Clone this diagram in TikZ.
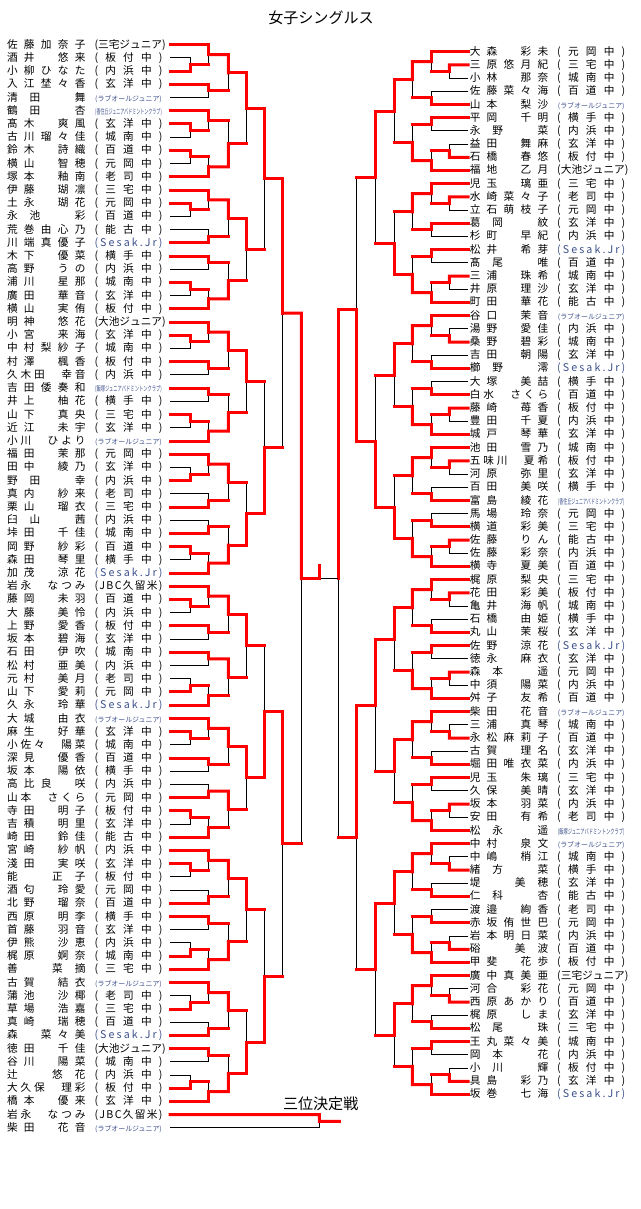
\documentclass[tikz,border=0pt]{standalone}
\usepackage{fontspec}
\setmainfont{Noto Sans CJK JP}
\usepackage{graphicx}
\usetikzlibrary{calc}
\definecolor{clubblue}{RGB}{60,80,140}

\makeatletter
\def\spreadstop{\spreadstop}
\def\spreadchars#1{\spread@loop#1\spreadstop}
\def\spread@loop#1#2{#1\ifx\spreadstop#2\expandafter\@gobble\else\hfill\expandafter\spread@loop\fi#2}
\makeatother
\newcommand{\spreadm}[1]{\expandafter\spreadchars\expandafter{#1}}

\newcommand{\clubS}[1]{\hbox to 51pt{\spreadchars{(#1)}}}
\newcommand{\clubE}{\hbox to 51pt{\color{clubblue}\spreadchars{(Sesak.Jr)}}}
\newcommand{\clubL}{\hbox to 51pt{\hss\fontsize{5.2}{6}\selectfont\color{clubblue}(ラブオールジュニア)\hss}}
\newcommand{\clubT}[1]{\hbox to 51pt{\hss\color{clubblue}\resizebox{50pt}{4.6pt}{(#1ジュニアバドミントンクラブ)}\hss}}

\newcommand{\slots}[2]{%
  \foreach \sr/\st/\sw [count=\sn] in {#2} {
    \ifnum\st=0
      \coordinate (#10-\sn) at (#1r\sr);
    \else
      \pgfmathtruncatemacro\srb{\sr+1}
      \coordinate (#10-\sn) at ($(#1c0 |- #1r\sr)!0.5!(#1c0 |- #1r\srb)$);
      \draw[lose] (#1r\sr) -- (#1c0 |- #1r\sr) -- (#1c0 |- #1r\srb) -- (#1r\srb);
      \ifnum\sw=1 \let\srw\sr \else \let\srw\srb \fi
      \draw[win] (#1r\srw) -- (#1c0 |- #1r\srw) -- (#10-\sn);
    \fi
    \expandafter\xdef\csname #1t\sn\endcsname{\st}
  }%
}

\newcommand{\rounds}[3]{%
  \pgfmathtruncatemacro\prv{#2-1}%
  \foreach \mw [count=\mj] in {#3} {
    \pgfmathtruncatemacro\bxa{2*\mj-1}
    \pgfmathtruncatemacro\bxb{2*\mj}
    \ifnum\mw=1 \let\bxw\bxa \let\bxl\bxb \else \let\bxw\bxb \let\bxl\bxa \fi
    \coordinate (#1#2-\mj) at ($(#1c#2 |- #1\prv-\bxa)!0.5!(#1c#2 |- #1\prv-\bxb)$);
    \draw[lose] (#1\prv-\bxa) -- (#1c#2 |- #1\prv-\bxa) -- (#1c#2 |- #1\prv-\bxb) -- (#1\prv-\bxb);
    \draw[win] (#1\prv-\bxw) -- (#1c#2 |- #1\prv-\bxw) -- (#1#2-\mj);
    \ifnum#2>1 \draw[win] (#1\prv-\bxl) -- (#1c#2 |- #1\prv-\bxl);
    \else\ifnum\csname #1t\bxl\endcsname=1 \draw[win] (#1\prv-\bxl) -- (#1c#2 |- #1\prv-\bxl);\fi\fi
  }%
}

\begin{document}
\begin{tikzpicture}[x=0.75pt, y=-0.75pt,
    lose/.style={black, line width=0.75pt},
    win/.style={red, line width=2.25pt, line cap=rect},
    player/.style={anchor=west, inner sep=0pt, font=\fontsize{8}{9}\selectfont},
    ttl/.style={inner sep=0pt, font=\fontsize{11.3}{13}\selectfont}]
  \fill[white] (0,0) rectangle (640,1209);
  \useasboundingbox (0,0) rectangle (640,1209);

  \node[ttl] (title) at (321,18) {女子シングルス};
  \node[ttl] (thirdtitle) at (320.7,1104) {三位決定戦};

  \coordinate (Lc0) at (190,0);
  \coordinate (Lc1) at (208.7,0);
  \coordinate (Lc2) at (228.3,0);
  \coordinate (Lc3) at (246,0);
  \coordinate (Lc4) at (264.7,0);
  \coordinate (Lc5) at (282.7,0);
  \coordinate (Lc6) at (301.3,0);
  \coordinate (Rc0) at (449.3,0);
  \coordinate (Rc1) at (431,0);
  \coordinate (Rc2) at (412.3,0);
  \coordinate (Rc3) at (394,0);
  \coordinate (Rc4) at (375.7,0);
  \coordinate (Rc5) at (356.7,0);
  \coordinate (Rc6) at (338.3,0);
  \coordinate (Fc) at (319.3,0);
  \coordinate (Tc) at (319.3,0);
  \coordinate (To) at (339.3,0);

  \foreach \i in {1,...,83} \coordinate (Lr\i) at (170, {44.7+13.21*(\i-1)});
  \foreach \i in {1,...,80} \coordinate (Rr\i) at (468, {51.7+13.2*(\i-1)});

  \foreach \i/\pn/\pc in {
    1/佐藤加奈子/\clubS{三宅ジュニア}, 2/酒井　悠来/\clubS{板付中}, 3/小柳ひなた/\clubS{内浜中},
    4/入江埜々香/\clubS{玄洋中}, 5/清田　舞/\clubL, 6/鶴田　杏/\clubT{香住丘},
    7/髙木　爽風/\clubS{玄洋中}, 8/古川瑠々佳/\clubS{城南中}, 9/鈴木　詩織/\clubS{百道中},
    10/横山　智穂/\clubS{元岡中}, 11/塚本　釉南/\clubS{老司中}, 12/伊藤　瑚凛/\clubS{三宅中},
    13/土永　瑚花/\clubS{元岡中}, 14/永池　彩/\clubS{百道中}, 15/荒巻由心乃/\clubS{能古中},
    16/川端真優子/\clubE, 17/木下　優菜/\clubS{横手中}, 18/高野　うの/\clubS{内浜中},
    19/浦川　星那/\clubS{城南中}, 20/廣田　華音/\clubS{玄洋中}, 21/横山　実侑/\clubS{板付中},
    22/明神　悠花/\clubS{大池ジュニア}, 23/小宮　来海/\clubS{玄洋中}, 24/中村梨紗子/\clubS{城南中},
    25/村澤　楓香/\clubS{板付中}, 26/久木田　幸音/\clubS{内浜中}, 27/吉田倭奏和/\clubT{飯塚},
    28/井上　柚花/\clubS{横手中}, 29/山下　真央/\clubS{三宅中}, 30/近江　未宇/\clubS{玄洋中},
    31/小川　ひより/\clubL, 32/福田　茉那/\clubS{元岡中}, 33/田中　綾乃/\clubS{玄洋中},
    34/野田　幸/\clubS{内浜中}, 35/真内　紗来/\clubS{老司中}, 36/栗山　瑠衣/\clubS{三宅中},
    37/臼山　茜/\clubS{内浜中}, 38/垰田　千佳/\clubS{城南中}, 39/岡野　紗彩/\clubS{百道中},
    40/森田　琴里/\clubS{横手中}, 41/加茂　涼花/\clubE, 42/岩永　なつみ/\clubS{JBC久留米},
    43/藤岡　未羽/\clubS{百道中}, 44/大藤　美怜/\clubS{内浜中}, 45/上野　愛香/\clubS{板付中},
    46/坂本　碧海/\clubS{玄洋中}, 47/石田　伊吹/\clubS{城南中}, 48/松村　亜美/\clubS{内浜中},
    49/元村　美月/\clubS{老司中}, 50/山下　愛莉/\clubS{元岡中}, 51/久永　玲華/\clubE,
    52/大城　由衣/\clubL, 53/麻生　好華/\clubS{玄洋中}, 54/小佐々　陽菜/\clubS{城南中},
    55/深見　優香/\clubS{百道中}, 56/坂本　陽依/\clubS{横手中}, 57/高比良　咲/\clubS{内浜中},
    58/山本　さくら/\clubS{元岡中}, 59/寺田　明子/\clubS{板付中}, 60/吉積　明里/\clubS{玄洋中},
    61/崎田　鈴佳/\clubS{能古中}, 62/宮崎　紗帆/\clubS{内浜中}, 63/淺田　実咲/\clubS{玄洋中},
    64/能　正子/\clubS{板付中}, 65/酒匂　玲愛/\clubS{元岡中}, 66/北野　瑠奈/\clubS{百道中},
    67/西原　明李/\clubS{横手中}, 68/首藤　羽音/\clubS{玄洋中}, 69/伊熊　沙恵/\clubS{内浜中},
    70/梶原　婀奈/\clubS{城南中}, 71/善　菜摘/\clubS{三宅中}, 72/古賀　結衣/\clubL,
    73/蒲池　沙椰/\clubS{老司中}, 74/草場　浩嘉/\clubS{三宅中}, 75/真崎　瑞穂/\clubS{百道中},
    76/森　菜々美/\clubE, 77/徳田　千佳/\clubS{大池ジュニア}, 78/谷川　陽菜/\clubS{城南中},
    79/辻　悠花/\clubS{内浜中}, 80/大久保　理彩/\clubS{板付中}, 81/橋本　優来/\clubS{玄洋中},
    82/岩永　なつみ/\clubS{JBC久留米}, 83/柴田　花音/\clubL}
    \node[player] (Ln\i) at (6.8, {44.7+13.21*(\i-1)}) {\hbox to 58.8pt{\spreadm\pn}\hskip6.8pt\relax\pc};

  \foreach \i/\pn/\pc in {
    1/大森　彩未/\clubS{元岡中}, 2/三原悠月紀/\clubS{三宅中}, 3/小林　那奈/\clubS{城南中},
    4/佐藤菜々海/\clubS{百道中}, 5/山本　梨沙/\clubL, 6/平岡　千明/\clubS{横手中},
    7/永野　菜/\clubS{内浜中}, 8/益田　舞麻/\clubS{玄洋中}, 9/石橋　春悠/\clubS{板付中},
    10/福地　乙月/\clubS{大池ジュニア}, 11/児玉　璃亜/\clubS{三宅中}, 12/水崎菜々子/\clubS{老司中},
    13/立石萌枝子/\clubS{元岡中}, 14/葛岡　紋/\clubS{玄洋中}, 15/杉町　早紀/\clubS{内浜中},
    16/松井　希芽/\clubE, 17/髙尾　唯/\clubS{百道中}, 18/三浦　珠希/\clubS{城南中},
    19/井原　理沙/\clubS{玄洋中}, 20/町田　華花/\clubS{能古中}, 21/谷口　茉音/\clubL,
    22/湯野　愛佳/\clubS{内浜中}, 23/桑野　碧彩/\clubS{城南中}, 24/吉田　朝陽/\clubS{玄洋中},
    25/櫛野　澪/\clubE, 26/大塚　美喆/\clubS{横手中}, 27/白水　さくら/\clubS{百道中},
    28/藤崎　苺香/\clubS{板付中}, 29/豊田　千夏/\clubS{内浜中}, 30/城戸　琴華/\clubS{玄洋中},
    31/池田　雪乃/\clubS{城南中}, 32/五味川　夏希/\clubS{板付中}, 33/河原　弥里/\clubS{玄洋中},
    34/百田　美咲/\clubS{横手中}, 35/富島　綾花/\clubT{香住丘}, 36/馬場　玲奈/\clubS{元岡中},
    37/横道　彩美/\clubS{三宅中}, 38/佐藤　りん/\clubS{能古中}, 39/佐藤　彩奈/\clubS{内浜中},
    40/横寺　夏美/\clubS{百道中}, 41/梶原　梨央/\clubS{三宅中}, 42/花田　彩美/\clubS{板付中},
    43/亀井　海帆/\clubS{城南中}, 44/石橋　由姫/\clubS{横手中}, 45/丸山　茉桜/\clubS{玄洋中},
    46/佐野　涼花/\clubE, 47/徳永　麻衣/\clubS{玄洋中}, 48/森本　遥/\clubS{元岡中},
    49/中須　陽菜/\clubS{内浜中}, 50/舛子　友希/\clubS{百道中}, 51/柴田　花音/\clubL,
    52/三浦　真琴/\clubS{城南中}, 53/永松麻莉子/\clubS{百道中}, 54/古賀　理名/\clubS{玄洋中},
    55/堀田唯衣菜/\clubS{内浜中}, 56/児玉　朱璃/\clubS{三宅中}, 57/久保　美晴/\clubS{玄洋中},
    58/坂本　羽菜/\clubS{内浜中}, 59/安田　有希/\clubS{老司中}, 60/松永　遥/\clubT{飯塚},
    61/中村　泉文/\clubL, 62/中嶋　梢江/\clubS{城南中}, 63/緒方　菜/\clubS{横手中},
    64/堤　美穂/\clubS{玄洋中}, 65/仁科　杏/\clubS{能古中}, 66/渡邉　絢香/\clubS{老司中},
    67/赤坂侑世巴/\clubS{元岡中}, 68/岩本明日菜/\clubS{内浜中}, 69/硲　美波/\clubS{百道中},
    70/甲斐　花歩/\clubS{板付中}, 71/廣中真美亜/\clubS{三宅ジュニア}, 72/河合　彩花/\clubS{元岡中},
    73/西原あかり/\clubS{百道中}, 74/梶原　しま/\clubS{玄洋中}, 75/松尾　珠/\clubS{三宅中},
    76/王丸菜々美/\clubS{城南中}, 77/岡本　花/\clubS{内浜中}, 78/小川　輝/\clubS{板付中},
    79/具島　彩乃/\clubS{玄洋中}, 80/坂巻　七海/\clubE}
    \node[player] (Rn\i) at (469.5, {51.7+13.2*(\i-1)}) {\hbox to 58.8pt{\spreadm\pn}\hskip6.8pt\relax\pc};

  \slots{L}{1/0/0, 2/1/2, 4/0/0, 5/0/0, 6/0/0, 7/1/1, 9/1/1, 11/0/0,
    12/0/0, 13/1/1, 15/0/0, 16/0/0, 17/0/0, 18/0/0, 19/1/1, 21/0/0,
    22/0/0, 23/1/1, 25/0/0, 26/0/0, 27/0/0, 28/0/0, 29/1/1, 31/0/0,
    32/0/0, 33/1/2, 35/0/0, 36/0/0, 37/0/0, 38/0/0, 39/1/1, 41/0/0,
    42/0/0, 43/1/1, 45/0/0, 46/0/0, 47/0/0, 48/0/0, 49/1/2, 51/0/0,
    52/0/0, 53/1/1, 55/0/0, 56/0/0, 57/0/0, 58/0/0, 59/1/1, 61/0/0,
    62/0/0, 63/1/1, 65/0/0, 66/0/0, 67/0/0, 68/0/0, 69/1/2, 71/0/0,
    72/0/0, 73/1/2, 75/0/0, 76/0/0, 77/0/0, 78/0/0, 79/1/2, 81/0/0}
  \rounds{L}{1}{1,1,1,2,1,2,1,2,1,1,1,2,1,2,2,2,1,1,1,2,1,1,2,2,1,2,1,2,1,2,1,2}
  \rounds{L}{2}{1,2,1,2,1,2,1,2,1,1,1,1,1,2,1,2}
  \rounds{L}{3}{1,1,1,2,1,1,1,2}
  \rounds{L}{4}{1,2,2,2}
  \rounds{L}{5}{1,1}
  \rounds{L}{6}{1}

  \slots{R}{1/0/0, 2/1/1, 4/0/0, 5/0/0, 6/0/0, 7/0/0, 8/1/2, 10/0/0,
    11/0/0, 12/1/1, 14/0/0, 15/0/0, 16/0/0, 17/0/0, 18/1/1, 20/0/0,
    21/0/0, 22/1/2, 24/0/0, 25/0/0, 26/0/0, 27/0/0, 28/1/1, 30/0/0,
    31/0/0, 32/1/1, 34/0/0, 35/0/0, 36/0/0, 37/0/0, 38/1/1, 40/0/0,
    41/0/0, 42/1/1, 44/0/0, 45/0/0, 46/0/0, 47/0/0, 48/1/1, 50/0/0,
    51/0/0, 52/1/2, 54/0/0, 55/0/0, 56/0/0, 57/0/0, 58/1/1, 60/0/0,
    61/0/0, 62/1/2, 64/0/0, 65/0/0, 66/0/0, 67/0/0, 68/1/2, 70/0/0,
    71/0/0, 72/1/2, 74/0/0, 75/0/0, 76/0/0, 77/0/0, 78/1/2, 80/0/0}
  \rounds{R}{1}{1,2,1,2,1,1,1,2,1,2,2,2,1,2,2,2,1,2,1,2,1,2,1,2,1,2,2,2,1,2,1,2}
  \rounds{R}{2}{1,2,1,2,1,2,1,2,1,2,1,2,1,2,1,2}
  \rounds{R}{3}{1,2,1,2,1,1,1,1}
  \rounds{R}{4}{1,2,1,1}
  \rounds{R}{5}{2,1}

  \coordinate (R6-1) at (Rc6 |- L6-1);
  \draw[lose] (R5-1) -- (Rc6 |- R5-1) -- (Rc6 |- R5-2) -- (R5-2);
  \draw[win] (R5-1) -- (Rc6 |- R5-1) -- (R6-1);
  \draw[win] (R5-2) -- (Rc6 |- R5-2);

  \draw[lose] (L6-1) -- (R6-1);
  \draw[win] (L6-1) -- (Fc |- L6-1) -- ++(0,-13);

  \coordinate (T1) at ($(Tc |- Lr82)!0.5!(Tc |- Lr83)$);
  \draw[lose] (Lr82) -- (Tc |- Lr82) -- (Tc |- Lr83) -- (Lr83);
  \draw[win] (Lr82) -- (Tc |- Lr82) -- (T1) -- (To |- T1);
\end{tikzpicture}
\end{document}
